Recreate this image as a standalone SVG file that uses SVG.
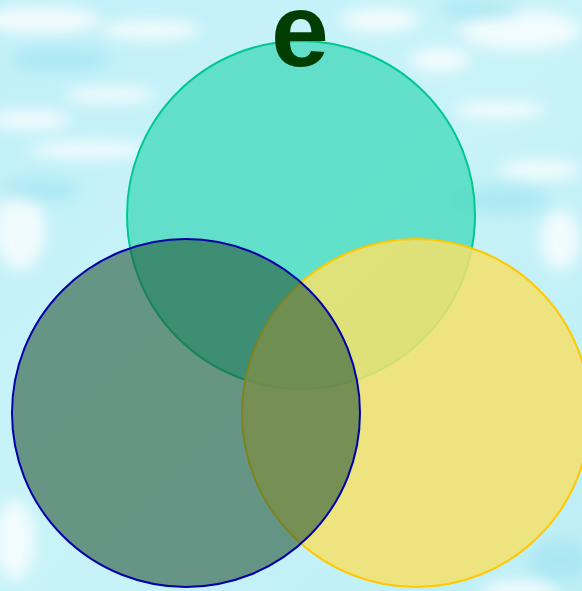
<svg xmlns="http://www.w3.org/2000/svg" width="582" height="591" viewBox="0 0 582 591">
  <defs>
    <filter id="blur" x="-20%" y="-20%" width="140%" height="140%">
      <feGaussianBlur stdDeviation="7"/>
    </filter>
    <linearGradient id="bg" x1="0" y1="0" x2="1" y2="1">
      <stop offset="0" stop-color="#c2f0f8"/>
      <stop offset="0.5" stop-color="#c8f3f8"/>
      <stop offset="1" stop-color="#bdeef6"/>
    </linearGradient>
    <style>
      .c { stroke-width: 2; }
      .teal { fill: #4fdcc2; fill-opacity: 0.85; stroke: #00c890; }
      .yellow { fill: #f5e26a; fill-opacity: 0.85; stroke: #ffc800; }
      .blue { fill: #245637; fill-opacity: 0.6; stroke: #0000a8; }
      .lbl { font-family: "Liberation Sans", Arial, sans-serif; font-weight: bold; font-size: 104px; fill: #003d00; text-anchor: middle; }
    </style>
  </defs>
  <g id="background">
    <rect x="0" y="0" width="582" height="591" fill="url(#bg)"/>
    <g filter="url(#blur)" fill="#ffffff" opacity="0.75">
      <ellipse cx="40" cy="20" rx="60" ry="14"/>
      <ellipse cx="150" cy="30" rx="50" ry="10"/>
      <ellipse cx="30" cy="120" rx="40" ry="10"/>
      <ellipse cx="110" cy="95" rx="45" ry="8"/>
      <ellipse cx="90" cy="150" rx="60" ry="9"/>
      <ellipse cx="20" cy="230" rx="25" ry="40"/>
      <ellipse cx="520" cy="30" rx="60" ry="20"/>
      <ellipse cx="440" cy="60" rx="30" ry="12"/>
      <ellipse cx="540" cy="170" rx="40" ry="10"/>
      <ellipse cx="500" cy="110" rx="45" ry="9"/>
      <ellipse cx="560" cy="240" rx="20" ry="30"/>
      <ellipse cx="15" cy="540" rx="20" ry="40"/>
      <ellipse cx="520" cy="590" rx="40" ry="10"/>
      <ellipse cx="380" cy="20" rx="40" ry="12"/>
    </g>
    <g filter="url(#blur)" fill="#9fe3f0" opacity="0.6">
      <ellipse cx="60" cy="60" rx="50" ry="12"/>
      <ellipse cx="40" cy="190" rx="40" ry="12"/>
      <ellipse cx="500" cy="200" rx="50" ry="15"/>
      <ellipse cx="480" cy="10" rx="40" ry="10"/>
      <ellipse cx="560" cy="560" rx="30" ry="20"/>
    </g>
  </g>
  <g id="circle-teal">
    <circle class="c teal" cx="301" cy="215" r="174"/>
  </g>
  <g id="circle-yellow">
    <circle class="c yellow" cx="416" cy="413" r="174"/>
  </g>
  <g id="circle-blue">
    <circle class="c blue" cx="186" cy="413" r="174"/>
  </g>
  <g id="title">
    <text class="lbl" x="300" y="66">e</text>
  </g>
  <g id="connectors"/>
</svg>
